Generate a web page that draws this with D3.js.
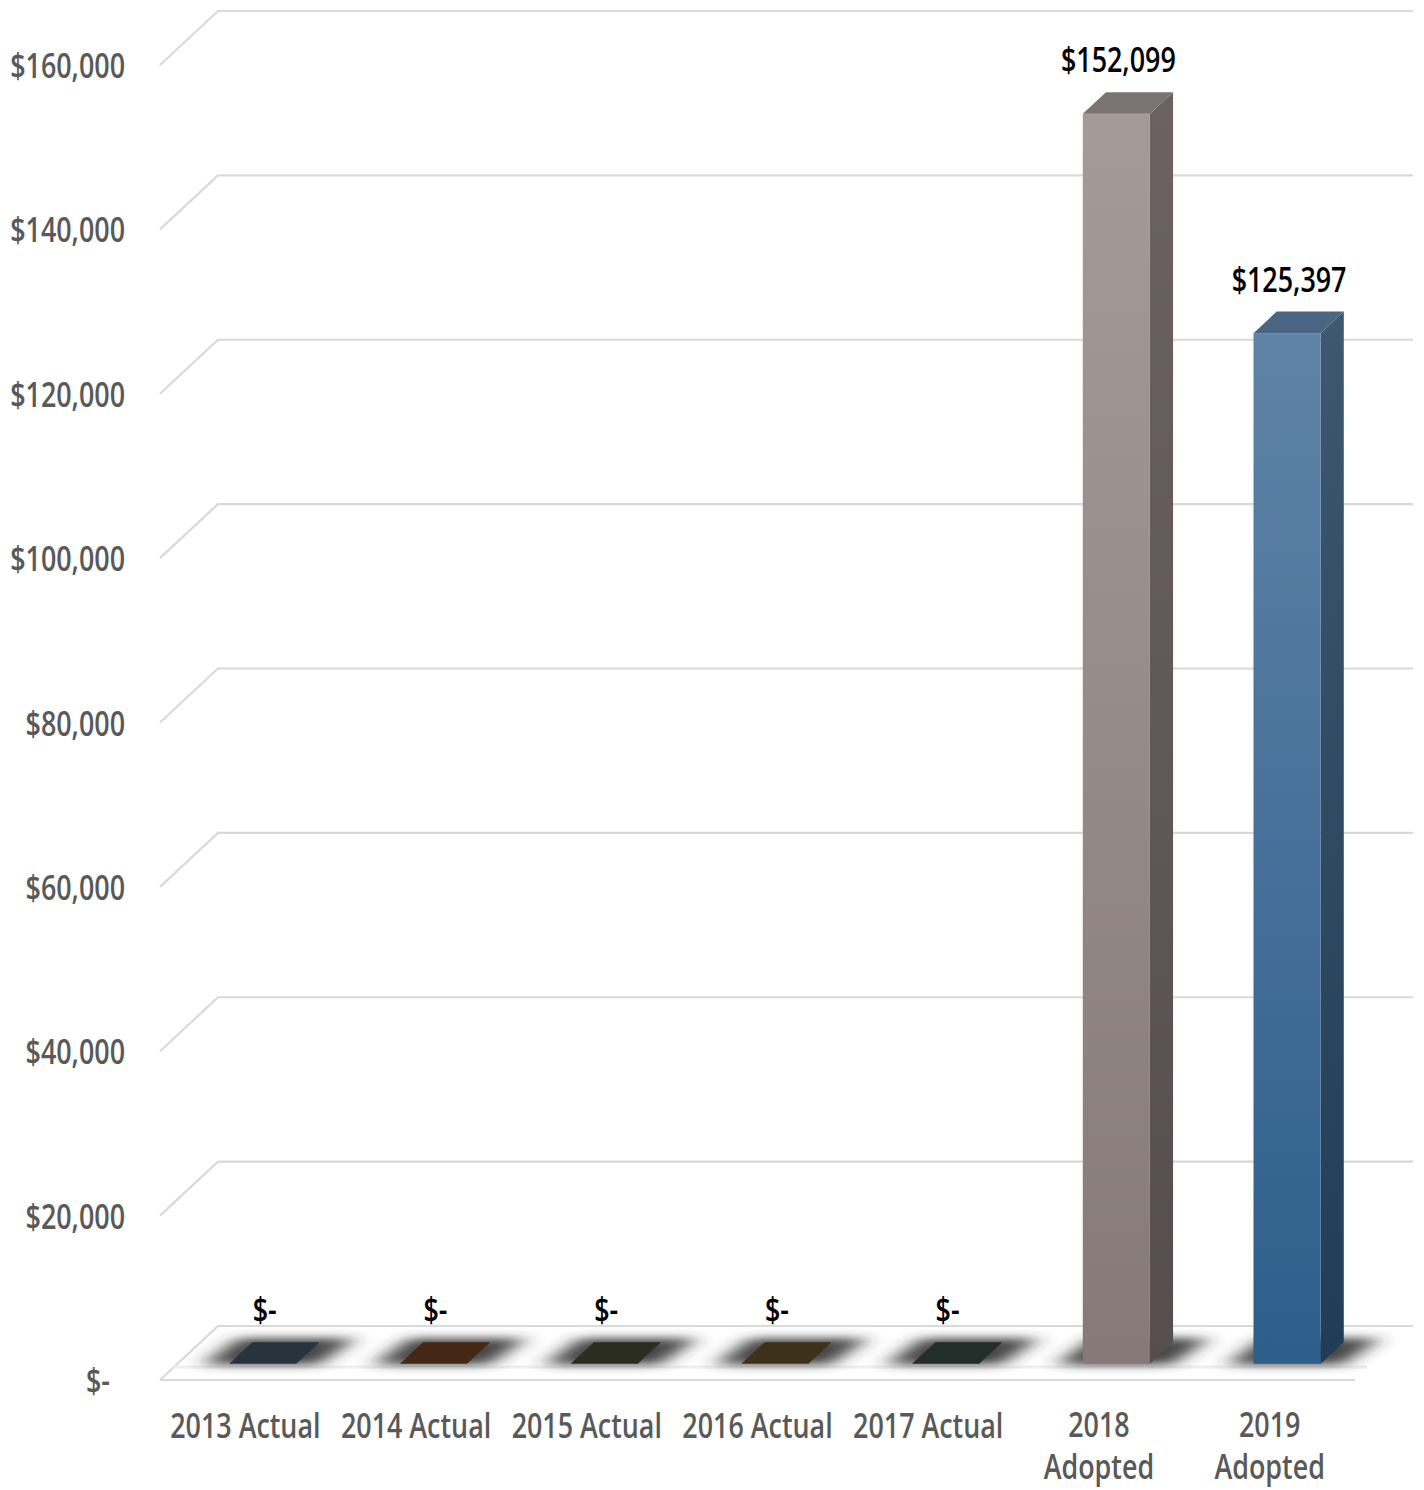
<!DOCTYPE html>
<html>
<head>
<meta charset="utf-8">
<script src="https://cdn.jsdelivr.net/npm/d3@7"></script>
<style>
  html, body { margin: 0; padding: 0; background: #ffffff; }
  svg { display: block; }
  text { font-family: "Open Sans", "Noto Sans", sans-serif; }
</style>
</head>
<body>
<svg id="chart" width="1424" height="1490"></svg>
<script>
// ---- data ----
const categories = ["2013 Actual", "2014 Actual", "2015 Actual", "2016 Actual", "2017 Actual", "2018 Adopted", "2019 Adopted"];
const values = [0, 0, 0, 0, 0, 152099, 125397];
const yTicks = [0, 20000, 40000, 60000, 80000, 100000, 120000, 140000, 160000];
const yTickLabels = ["$-", "$20,000", "$40,000", "$60,000", "$80,000", "$100,000", "$120,000", "$140,000", "$160,000"];
const valueLabels = ["$-", "$-", "$-", "$-", "$-", "$152,099", "$125,397"];

// ---- styles ----
const frontColorsTop    = ["#27333d", "#452716", "#2b2d20", "#3e311a", "#232e2a", "#a49b98", "#5f83a6"];
const frontColorsBottom = ["#27333d", "#452716", "#2b2d20", "#3e311a", "#232e2a", "#857a78", "#2d5e8c"];
const sideColorsTop     = ["#1c252d", "#321c10", "#1f2117", "#2d2413", "#19221f", "#6b6261", "#3f5771"];
const sideColorsBottom  = ["#1c252d", "#321c10", "#1f2117", "#2d2413", "#19221f", "#564e4e", "#203c56"];
const topColors         = ["#27333d", "#452716", "#2b2d20", "#3e311a", "#232e2a", "#7b7371", "#4b6683"];

const svg = d3.select("#chart");
const defs = svg.append("defs");

const left = 160, right = 1355;
const depthDx = 58, depthDy = -54;       // full floor depth offset
const d0 = 0.3, d1 = 0.7;                // bar depth range
const textScale = 0.8;
const fontSize = 33.6;

const y = d3.scaleLinear().domain([0, 160000]).range([1380, 65]);
const x = d3.scaleBand().domain(categories).range([left, right])
  .paddingInner(0.607).paddingOuter(0.3035);

const blur = defs.append("filter").attr("id", "shadowBlur")
  .attr("x", "-50%").attr("y", "-100%").attr("width", "200%").attr("height", "300%");
blur.append("feGaussianBlur").attr("stdDeviation", "11 5");

function scaledText(g, px, py, str, opts) {
  return g.append("text")
    .attr("transform", `translate(${px},${py}) scale(${textScale},1)`)
    .attr("text-anchor", opts.anchor || "middle")
    .attr("font-size", opts.size || fontSize)
    .attr("font-weight", opts.weight || 600)
    .attr("fill", opts.fill || "#595959")
    .text(str);
}

// ---- gridlines (side wall diagonal + back wall) ----
const grid = svg.append("g").attr("fill", "none").attr("stroke", "#d9d9d9").attr("stroke-width", 2.2);
yTicks.forEach(t => {
  const yf = y(t);
  grid.append("path").attr("d",
    `M${left},${yf} L${left + depthDx},${yf + depthDy} L${right + depthDx},${yf + depthDy}`);
});
// floor front edge
grid.append("path").attr("d", `M${left},${y(0)} L${right},${y(0)}`);
// faint floor inner line
svg.append("path").attr("d", `M${left + 14},${y(0) - 13} L${right + 12},${y(0) - 13}`)
  .attr("stroke", "#efefef").attr("stroke-width", 3).attr("fill", "none");

// ---- shadows ----
const shadowG = svg.append("g").attr("filter", "url(#shadowBlur)");
categories.forEach((c, i) => {
  const x0 = x(c) + d0 * depthDx;
  const x1 = x0 + x.bandwidth();
  const yb = y(0) + d0 * depthDy;
  const ddx = (d1 - d0) * depthDx, ddy = (d1 - d0) * depthDy;
  shadowG.append("path")
    .attr("d", `M${x0 - 26},${yb + 1} L${x1 + 22},${yb + 1} L${x1 + ddx + 36},${yb + ddy - 4} L${x0 + ddx - 14},${yb + ddy - 4} Z`)
    .attr("fill", "#303030").attr("opacity", 0.9);
});

// ---- bars ----
const barsG = svg.append("g");
categories.forEach((c, i) => {
  const v = values[i];
  const x0 = x(c) + d0 * depthDx;
  const x1 = x0 + x.bandwidth();
  const yb = y(0) + d0 * depthDy;
  const yt = y(v) + d0 * depthDy;
  const ddx = (d1 - d0) * depthDx, ddy = (d1 - d0) * depthDy;

  const gf = defs.append("linearGradient").attr("id", "gf" + i)
    .attr("x1", 0).attr("y1", 0).attr("x2", 0).attr("y2", 1);
  gf.append("stop").attr("offset", "0%").attr("stop-color", frontColorsTop[i]);
  gf.append("stop").attr("offset", "100%").attr("stop-color", frontColorsBottom[i]);
  const gs = defs.append("linearGradient").attr("id", "gs" + i)
    .attr("x1", 0).attr("y1", 0).attr("x2", 0).attr("y2", 1);
  gs.append("stop").attr("offset", "0%").attr("stop-color", sideColorsTop[i]);
  gs.append("stop").attr("offset", "100%").attr("stop-color", sideColorsBottom[i]);

  if (v > 0) {
    // side face
    barsG.append("path")
      .attr("d", `M${x1},${yt} L${x1 + ddx},${yt + ddy} L${x1 + ddx},${yb + ddy} L${x1},${yb} Z`)
      .attr("fill", `url(#gs${i})`);
    // front face
    barsG.append("rect")
      .attr("x", x0).attr("y", yt).attr("width", x1 - x0).attr("height", yb - yt)
      .attr("fill", `url(#gf${i})`);
  }
  // top face
  barsG.append("path")
    .attr("d", `M${x0},${yt} L${x1},${yt} L${x1 + ddx},${yt + ddy} L${x0 + ddx},${yt + ddy} Z`)
    .attr("fill", topColors[i]);
});

// ---- value labels ----
const labG = svg.append("g");
categories.forEach((c, i) => {
  const x0 = x(c) + d0 * depthDx;
  const cx = x0 + x.bandwidth() / 2 + 2;
  const yTopBack = y(values[i]) + d1 * depthDy;
  scaledText(labG, cx, yTopBack - 20, valueLabels[i], { fill: "#000000", weight: 600 });
});

// ---- y axis labels ----
const yAx = svg.append("g");
yTicks.forEach((t, i) => {
  const dx = t === 0 ? -15 : 0;
  scaledText(yAx, 125 + dx, y(t) + 13, yTickLabels[i], { anchor: "end" });
});

// ---- x axis labels (wrapped) ----
const xAx = svg.append("g");
categories.forEach(c => {
  const cx = x(c) + x.bandwidth() / 2;
  const t = scaledText(xAx, cx, 1438, c, {});
  const w = t.node().getComputedTextLength() * textScale;
  if (w > x.step()) {
    t.remove();
    const words = c.split(" ");
    words.forEach((wd, k) => scaledText(xAx, cx, 1437 + k * 42, wd, {}));
  }
});
</script>
</body>
</html>
